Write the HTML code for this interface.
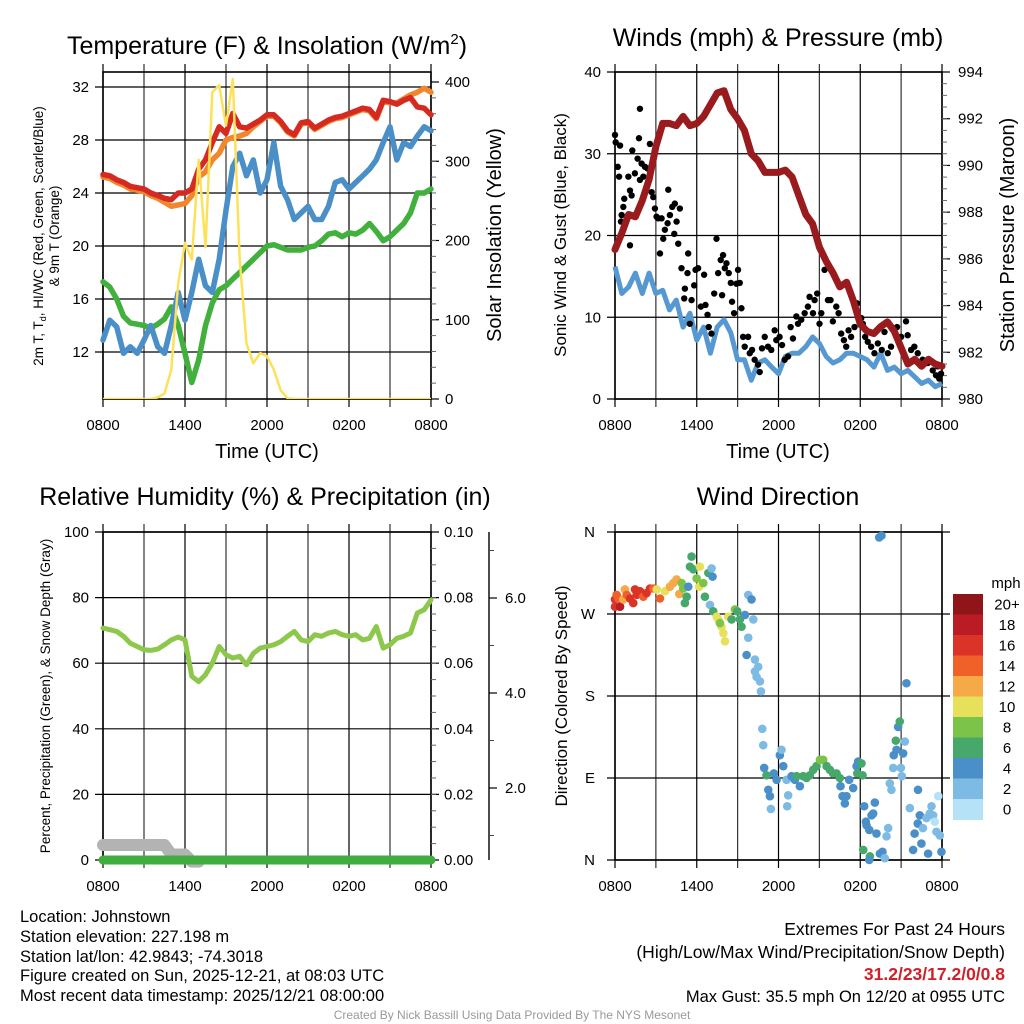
<!DOCTYPE html>
<html><head><meta charset="utf-8">
<style>
html,body{margin:0;padding:0;background:#fff;}
svg{display:block;font-family:"Liberation Sans",sans-serif;}
</style></head>
<body>
<svg id="chart" width="1024" height="1024" viewBox="0 0 1024 1024" xmlns="http://www.w3.org/2000/svg">
<rect x="0" y="0" width="1024" height="1024" fill="#fff"/>
<g id="p1"></g>
<g id="p2"></g>
<g id="p3"></g>
<g id="p4"></g>

<text x="267" y="54" font-size="25" text-anchor="middle">Temperature (F) &amp; Insolation (W/m<tspan dy="-10" font-size="15">2</tspan><tspan dy="10">)</tspan></text>
<text x="778" y="46" font-size="25" text-anchor="middle">Winds (mph) &amp; Pressure (mb)</text>
<text x="265" y="505" font-size="25" text-anchor="middle">Relative Humidity (%) &amp; Precipitation (in)</text>
<text x="778" y="505" font-size="25" text-anchor="middle">Wind Direction</text>

<text x="267" y="458" font-size="20" text-anchor="middle">Time (UTC)</text>
<text x="778" y="458" font-size="20" text-anchor="middle">Time (UTC)</text>

<text transform="translate(43,236) rotate(-90)" font-size="13.5" text-anchor="middle">2m T, T<tspan dy="3" font-size="9">d</tspan><tspan dy="-3">, HI/WC (Red, Green, Scarlet/Blue)</tspan></text>
<text transform="translate(59,236) rotate(-90)" font-size="13.5" text-anchor="middle">&amp; 9m T (Orange)</text>
<text transform="translate(501,235) rotate(-90)" font-size="20" text-anchor="middle">Solar Insolation (Yellow)</text>
<text transform="translate(566,235) rotate(-90)" font-size="17" text-anchor="middle">Sonic Wind &amp; Gust (Blue, Black)</text>
<text transform="translate(1014,235) rotate(-90)" font-size="20" text-anchor="middle">Station Pressure (Maroon)</text>
<text transform="translate(50,696) rotate(-90)" font-size="13.5" text-anchor="middle">Percent, Precipitation (Green), &amp; Snow Depth (Gray)</text>
<text transform="translate(567,696) rotate(-90)" font-size="17" text-anchor="middle">Direction (Colored By Speed)</text>

<g font-size="16.5">
<text x="20" y="922">Location: Johnstown</text>
<text x="20" y="942">Station elevation: 227.198 m</text>
<text x="20" y="962">Station lat/lon: 42.9843; -74.3018</text>
<text x="20" y="981">Figure created on Sun, 2025-12-21, at 08:03 UTC</text>
<text x="20" y="1001">Most recent data timestamp: 2025/12/21 08:00:00</text>
</g>
<g font-size="16.5" text-anchor="end">
<text x="1005" y="935" font-size="17.5">Extremes For Past 24 Hours</text>
<text x="1005" y="958" font-size="17.5">(High/Low/Max Wind/Precipitation/Snow Depth)</text>
<text x="1005" y="980" font-size="17.5" fill="#d0202a" font-weight="bold">31.2/23/17.2/0/0.8</text>
<text x="1005" y="1002">Max Gust: 35.5 mph On 12/20 at 0955 UTC</text>
</g>
<text x="512" y="1019" font-size="12" fill="#999" text-anchor="middle">Created By Nick Bassill Using Data Provided By The NYS Mesonet</text>
</svg>
<script>
// ---------- data (half-hourly from 0800 UTC) ----------
const xTickLabels = ["0800","1400","2000","0200","0800"];
const tempRed = [25.4,25.3,25.0,24.8,24.5,24.4,24.3,24.0,23.8,23.6,23.5,24.0,24.0,24.3,25.8,26.5,27.8,29.0,28.5,30.0,29.0,28.9,29.2,29.5,29.9,29.9,29.4,28.7,28.4,29.3,29.4,28.9,29.2,29.5,29.7,29.8,30.0,30.2,30.4,30.3,29.7,31.0,30.9,30.7,31.0,31.2,30.5,30.4,29.9];
const temp9m = [25.2,25.1,24.8,24.6,24.3,24.2,24.1,23.8,23.6,23.3,23.0,23.1,23.2,23.8,25.2,25.6,26.5,27.0,28.0,28.2,28.3,28.5,29.0,29.4,29.8,29.8,29.3,28.6,28.3,29.2,29.3,28.8,29.1,29.4,29.6,29.7,29.9,30.1,30.3,30.2,29.6,30.9,30.8,30.8,31.1,31.4,31.6,31.9,31.6];
const dewBlue = [12.9,14.4,13.9,11.9,12.4,11.9,12.9,14.0,12.4,11.9,14.0,16.5,14.4,16.5,19.0,17.0,16.5,19.0,22.7,26.0,27.0,25.3,26.5,24.0,25.0,27.8,24.5,23.5,22.0,22.5,23.0,22.0,22.0,23.0,24.8,25.0,24.3,24.8,25.3,25.8,26.5,27.8,29.0,26.5,27.8,27.5,28.3,29.0,28.7];
const chillGreen = [17.3,16.9,16.0,14.7,14.2,14.1,14.0,13.8,14.1,14.5,15.4,14.0,11.9,9.7,11.4,14.0,15.7,16.7,17.0,17.5,18.0,18.5,19.0,19.5,20.0,20.1,19.9,19.7,19.7,19.7,19.9,20.0,20.4,20.9,21.0,20.7,21.0,20.9,21.2,21.7,21.1,20.4,20.7,21.2,21.7,22.5,24.0,24.0,24.3];
const solar = [0,0,0,0,0,0,0,0,2,7,37,146,197,176,302,192,387,396,345,404,176,70,45,58,54,37,11,1,0,0,0,0,0,0,0,0,0,0,0,0,0,0,0,0,0,0,0,0,0];
const windBlue = [16.2,12.9,13.7,15.4,12.9,15.4,12.9,13.3,10.9,12.1,8.8,10.5,7.2,8.8,5.6,8.8,9.7,8.1,4.8,4.8,2.3,4.4,4.8,3.9,3.1,5.2,5.6,5.6,6.4,7.6,6.8,5.2,4.4,4.8,5.6,5.6,5.2,4.8,3.9,5.6,3.5,3.9,3.1,3.5,2.7,1.9,2.3,1.5,1.9];
const pressure = [986.4,987.1,987.9,987.8,988.5,989.4,990.8,991.8,991.8,991.7,992.1,991.7,991.8,992.1,992.6,993.1,993.2,992.4,992.0,991.5,990.5,990.2,989.7,989.7,989.7,989.8,989.5,988.7,987.9,987.5,986.5,985.9,985.4,984.8,985.0,984.2,983.2,982.9,982.8,983.1,983.3,982.9,982.2,981.5,981.7,981.4,981.7,981.5,981.4];
const gustHours = [0.0,0.05,0.37,0.2,0.3,0.68,0.61,0.49,0.44,1.1,0.98,1.27,1.1,1.22,1.46,1.66,1.83,1.76,1.95,1.83,2.08,2.2,2.39,2.56,2.69,2.81,2.93,3.17,3.42,3.05,3.3,3.54,3.66,3.86,3.91,4.03,4.2,4.35,4.39,4.52,4.64,4.76,4.88,5.37,5.13,5.08,5.32,5.49,5.62,5.81,5.91,6.1,6.3,6.54,6.64,6.79,6.88,7.08,7.28,7.45,7.57,7.76,7.86,7.93,8.06,8.18,8.35,8.5,8.59,8.74,8.91,9.03,9.16,9.28,9.4,9.52,9.77,9.89,10.06,10.25,10.5,10.62,10.79,10.99,11.23,11.47,11.72,11.84,12.08,12.26,12.45,12.7,12.89,13.06,13.31,13.43,13.67,13.92,14.16,14.28,14.53,14.65,14.84,15.01,15.14,15.38,15.63,15.82,15.99,16.24,16.41,16.6,16.8,16.97,17.14,17.33,17.58,17.77,18.07,18.19,18.36,18.55,18.8,19.04,19.29,19.58,19.78,20.02,20.26,20.7,21.0,21.36,21.48,21.73,21.97,22.22,22.58,22.95,23.32,23.56,23.8,23.93,23.68];
const gustMph = [32.3,31.4,31.0,28.4,27.2,24.5,23.5,22.5,21.7,18.8,27.2,30.4,25.5,24.9,27.6,29.4,35.5,31.9,28.8,26.8,27.2,28.4,28.2,31.2,25.3,24.7,23.3,22.1,22.1,22.3,17.8,19.6,20.7,21.5,25.6,22.5,23.5,20.2,23.9,21.7,19.0,23.3,16.0,17.8,13.5,12.3,15.4,9.2,12.1,13.9,15.8,16.0,11.3,15.2,11.5,10.3,8.8,8.0,12.9,19.6,15.4,17.0,12.7,17.6,16.0,16.6,15.4,14.2,11.9,10.5,14.1,15.8,14.2,11.1,7.6,6.4,7.6,5.6,6.0,4.8,4.2,3.3,6.2,7.6,6.4,6.0,8.4,7.2,7.6,6.6,4.8,5.2,8.8,7.4,10.1,9.2,9.7,10.5,11.3,12.5,10.5,12.1,12.9,9.2,10.5,15.8,12.1,12.1,9.5,11.3,10.5,8.0,7.2,6.4,8.4,7.6,8.8,11.7,9.9,9.2,7.6,7.0,6.4,5.6,6.8,6.0,8.2,5.6,6.4,8.8,7.6,9.5,7.8,6.0,6.4,5.6,4.8,4.4,3.5,2.9,2.5,3.1,4.0];
const rh = [70.7,70.2,69.7,68.2,66.1,65.1,64.1,63.9,64.3,65.6,67.1,68.0,67.1,56.0,54.4,56.5,60.0,65.1,62.6,61.6,62.1,59.5,63.0,64.6,65.1,65.6,66.6,68.2,69.7,67.1,66.6,68.7,68.2,69.2,69.7,68.7,68.2,68.7,67.1,67.6,71.2,64.6,65.6,67.6,68.2,69.2,75.3,76.3,79.3];
const precip = [0,0,0,0,0,0,0,0,0,0,0,0,0,0,0,0,0,0,0,0,0,0,0,0,0,0,0,0,0,0,0,0,0,0,0,0,0,0,0,0,0,0,0,0,0,0,0,0,0];
const snowDepth = [0.8,0.8,0.8,0.8,0.8,0.8,0.8,0.8,0.8,0.8,0.6,0.6,0.6,0.45,0.45];
const dirHours = [0,0,0.12,0.24,0.37,0.61,0.73,0.86,1.1,1.34,1.47,1.59,1.83,2.08,2.32,2.57,2.81,3.06,3.3,3.67,4.03,4.28,4.52,4.72,4.89,5.01,5.13,5.26,5.38,5.5,5.62,5.75,5.99,6.23,6.18,6.48,6.6,6.85,7.09,7.16,6.97,7.21,7.46,7.58,7.82,7.95,8.07,7.7,8.31,8.56,8.8,8.97,9.17,9.29,9.54,9.78,10.02,10.15,9.78,9.66,10.27,10.51,10.27,10.39,10.64,10.71,10.81,10.88,10.95,11.12,11.25,11.37,11.44,11.66,11.86,12.1,12.22,12.35,12.59,12.71,12.64,12.96,13.2,13.33,13.57,13.81,14.06,14.3,14.55,14.79,15.04,15.28,15.53,15.77,16.01,16.26,16.5,16.55,16.7,16.87,16.99,17.19,17.48,17.73,17.85,17.78,18.09,18.17,18.29,18.41,18.46,18.66,18.83,18.95,19.07,19.19,18.22,18.71,18.66,19.44,19.63,19.8,19.93,20.05,19.39,19.56,20.17,20.29,20.42,20.46,20.66,20.61,20.78,20.9,21.15,21.27,21.39,20.98,21.05,21.64,21.88,21.99,22.22,22.24,22.37,22.49,22.6,22.86,22.98,23.1,23.23,23.35,23.47,23.72,23.84,23.96,23.59];
const dirDeg = [286,278,291,287,278,286,297,291,287,282,297,291,295,289,293,298,298,297,287,295,300,304,308,292,304,298,282,289,300,322,333,319,309,322,300,304,289,315,320,311,280,273,267,264,256,249,240,260,267,264,275,273,264,256,269,291,286,264,244,225,220,212,207,201,196,185,144,126,101,93,77,70,56,95,88,115,121,103,88,71,59,92,88,92,81,92,90,93,99,103,110,110,103,99,95,95,90,81,70,62,70,88,79,103,108,95,106,93,59,42,38,33,49,51,63,29,11,4,0,7,9,2,26,35,354,356,84,77,101,115,121,131,146,152,117,130,194,101,92,57,11,29,40,77,49,18,35,46,7,51,59,49,42,70,27,9,31];
const dirSpeed = [16,17,15,14,18,13,12,14,16,17,17,16,17,15,16,16,14,11,14,10,13,13,12,12,8,8,6,7,4,6,6,7,8,10,10,8,6,6,3,4,3,7,10,10,10,10,10,8,10,6,8,6,6,6,4,2,4,2,2,4,2,2,2,2,2,2,2,2,4,6,4,4,2,4,4,4,2,4,2,2,2,4,4,6,4,6,6,6,6,6,8,8,6,6,6,6,6,4,4,4,4,4,4,4,4,6,6,6,4,4,4,4,4,4,4,4,6,6,4,4,4,2,2,2,4,4,2,2,2,4,4,6,4,6,4,2,4,2,2,2,4,4,4,4,4,4,2,2,4,2,2,2,0,0,2,4,2];
const speedBinLabels = ["0","2","4","6","8","10","12","14","16","18","20+"];
const speedBinColors = ["#b5e2f6","#7dbbe4","#4a8fc8","#46a86a","#7cc34a","#e7e05a","#f6a947","#f06129","#dc3328","#bb1b24","#8f1519"];

// ---------- helpers ----------
const NS = "http://www.w3.org/2000/svg";
function mk(parent, tag, attrs){ const e=document.createElementNS(NS,tag); for(const k in attrs) e.setAttribute(k,attrs[k]); parent.appendChild(e); return e; }
function linear(d0,d1,r0,r1){ return v => r0 + (v-d0)/(d1-d0)*(r1-r0); }
function pathFrom(vals, fx, fy){ return vals.map((v,i)=>(i?"L":"M")+fx(i).toFixed(1)+","+fy(v).toFixed(1)).join(""); }

function frame(g, x0,y0,x1,y1, name){
  const xs = linear(0,24,x0,x1);
  for(let h=0;h<=24;h+=3){
    const l = mk(g,"line",{x1:xs(h),x2:xs(h),y1:y0-8,y2:y1+8,stroke:(h%6===0?"#000":"#333"),"stroke-width":1.2});
    
    
  }
  const r = mk(g,"rect",{x:x0,y:y0,width:x1-x0,height:y1-y0,fill:"none",stroke:"#000","stroke-width":1.6});
  
  
  for(let k=0;k<xTickLabels.length;k++){
    const t = mk(g,"text",{x:xs(k*6),y:y1+31,"font-size":15,"text-anchor":"middle"});
    t.textContent = xTickLabels[k];
    
    
  }
  return xs;
}
function hgrid(g,x0,x1,y,name,right){
  const l = mk(g,"line",{x1:x0-8,x2:x1+(right?8:0),y1:y,y2:y,stroke:"#000","stroke-width":1.2});
  
  
}
function label(g,x,y,txt,anchor,name,size){
  const t = mk(g,"text",{x:x,y:y,"font-size":size||15,"text-anchor":anchor});
  t.textContent = txt;
  
  
  return t;
}
function minorTicks(g,x,y0,y1,n,name){
  for(let i=1;i<n;i++){
    const y=y0+(y1-y0)*i/n;
    const l=mk(g,"line",{x1:x,x2:x+5,y1:y,y2:y,stroke:"#666","stroke-width":1});
    
    
  }
}

// ---------- Panel 1: temperature ----------
(function(){
  const g=document.getElementById("p1");
  const X0=103,X1=431,Y0=72,Y1=399;
  const xs=frame(g,X0,Y0,X1,Y1,"temp");
  const yT=linear(12,32,352,87);
  const yS=linear(0,400,399,82);
  [12,16,20,24,28,32].forEach(v=>{hgrid(g,X0,X1,yT(v),"temp"); label(g,X0-14,yT(v)+5,String(v),"end","temp-y-tick-label");});
  [0,100,200,300,400].forEach(v=>{
    const l=mk(g,"line",{x1:X1,x2:X1+8,y1:yS(v),y2:yS(v),stroke:"#000","stroke-width":1.2});
     
    label(g,X1+14,yS(v)+5,String(v),"start","solar-y-tick-label");
  });
  minorTicks(g,X1,82,399,20,"solar");
  const fx=i=>xs(i/2);
  const clip=mk(g,"clipPath",{id:"c1"}); mk(clip,"rect",{x:X0,y:Y0-3,width:X1-X0+6,height:Y1-Y0+3});
  const series=[[chillGreen,"#41b03c",5.5,"windchill-line"],[dewBlue,"#4a8fc8",5.5,"dewpoint-line"],[temp9m,"#f2862f",5.5,"temp-9m-line"],[tempRed,"#d42a22",5.5,"temp-2m-line"]];
  series.forEach(s=>{
    const p=mk(g,"path",{d:pathFrom(s[0],fx,yT),fill:"none",stroke:s[1],"stroke-width":s[2],"stroke-linejoin":"round","stroke-linecap":"round"});
     
  });
  const ps=mk(g,"path",{d:pathFrom(solar,fx,yS),fill:"none",stroke:"#fbe25a","stroke-width":2.5,"stroke-linejoin":"round","clip-path":"url(#c1)"});
   
})();

// ---------- Panel 2: winds ----------
(function(){
  const g=document.getElementById("p2");
  const X0=615,X1=942,Y0=72,Y1=399;
  const xs=frame(g,X0,Y0,X1,Y1,"wind");
  const yW=linear(0,40,399,72);
  const yP=linear(980,994,399,72);
  [0,10,20,30,40].forEach(v=>{hgrid(g,X0,X1,yW(v),"wind"); label(g,X0-14,yW(v)+5,String(v),"end","wind-y-tick-label");});
  [980,982,984,986,988,990,992,994].forEach(v=>{
    const l=mk(g,"line",{x1:X1,x2:X1+8,y1:yP(v),y2:yP(v),stroke:"#000","stroke-width":1.2});
     
    label(g,X1+16,yP(v)+5,String(v),"start","pressure-y-tick-label");
  });
  minorTicks(g,X1,72,399,28,"pressure");
  const fx=i=>xs(i/2);
  const pb=mk(g,"path",{d:pathFrom(windBlue,fx,yW),fill:"none",stroke:"#5699d2","stroke-width":5,"stroke-linejoin":"round"});
   
  for(let i=0;i<gustHours.length;i++){
    const c=mk(g,"circle",{cx:xs(gustHours[i]),cy:yW(gustMph[i]),r:3.2,fill:"#000"});
     
  }
  const pp=mk(g,"path",{d:pathFrom(pressure,fx,yP),fill:"none",stroke:"#9a1b1d","stroke-width":7,"stroke-linejoin":"round","stroke-linecap":"round"});
   
})();

// ---------- Panel 3: humidity ----------
(function(){
  const g=document.getElementById("p3");
  const X0=103,X1=431,Y0=532,Y1=860;
  const xs=frame(g,X0,Y0,X1,Y1,"rh");
  const yR=linear(0,100,860,532);
  const yPr=linear(0,0.1,860,532);
  const ySn=linear(0,2,883,788);
  [0,20,40,60,80,100].forEach(v=>{
    hgrid(g,X0,X1,yR(v),"rh",true);
    label(g,X0-14,yR(v)+5,String(v),"end","rh-y-tick-label");
    label(g,X1+13,yR(v)+5,(v/1000).toFixed(2),"start","precip-y-tick-label");
  });
  minorTicks(g,X1,532,860,20,"precip");
  const ax=mk(g,"line",{x1:489,x2:489,y1:532,y2:860,stroke:"#000","stroke-width":1.4});
   
  [2,4,6].forEach(v=>{
    const l=mk(g,"line",{x1:489,x2:497,y1:ySn(v),y2:ySn(v),stroke:"#000","stroke-width":1.2});
     
    label(g,505,ySn(v)+5,v.toFixed(1),"start","snow-y-tick-label");
  });
  for(let v=1;v<8;v+=2){ const y=ySn(v); if(y>532){const l=mk(g,"line",{x1:489,x2:494,y1:y,y2:y,stroke:"#444","stroke-width":1});  }}
  const fx=i=>xs(i/2);
  const ps=mk(g,"path",{d:pathFrom(snowDepth,fx,ySn),fill:"none",stroke:"#b3b3b3","stroke-width":12,"stroke-linejoin":"round","stroke-linecap":"round"});
   
  const pp=mk(g,"path",{d:pathFrom(precip,fx,yPr),fill:"none",stroke:"#3fae3f","stroke-width":9,"stroke-linecap":"round"});
   
  const pr=mk(g,"path",{d:pathFrom(rh,fx,yR),fill:"none",stroke:"#8dc84c","stroke-width":5,"stroke-linejoin":"round","stroke-linecap":"round"});
   
})();

// ---------- Panel 4: wind direction ----------
(function(){
  const g=document.getElementById("p4");
  const X0=615,X1=942,Y0=532,Y1=860;
  const xs=frame(g,X0,Y0,X1,Y1,"dir");
  const yD=linear(0,360,860,532);
  const dirLabels=["N","E","S","W","N"];
  dirLabels.forEach((t,k)=>{hgrid(g,X0,X1+8,yD(k*90),"dir"); label(g,X0-20,yD(k*90)+5,t,"end","dir-y-tick-label");});
  for(let i=0;i<dirHours.length;i++){
    const b=Math.min(10,Math.floor(dirSpeed[i]/2));
    const c=mk(g,"circle",{cx:xs(dirHours[i]),cy:yD(dirDeg[i]),r:4.3,fill:speedBinColors[b]});
     
  }
  label(g,1006,588,"mph","middle","colorbar-title",15);
  const top=594,bh=20.5;
  for(let k=0;k<speedBinLabels.length;k++){
    const idx=speedBinLabels.length-1-k;
    const r=mk(g,"rect",{x:953,y:top+k*bh,width:30,height:bh+0.5,fill:speedBinColors[idx]});
     
    label(g,1007,top+k*bh+bh/2+5,speedBinLabels[idx],"middle","colorbar-label",15);
  }
})();
</script>
</body></html>
